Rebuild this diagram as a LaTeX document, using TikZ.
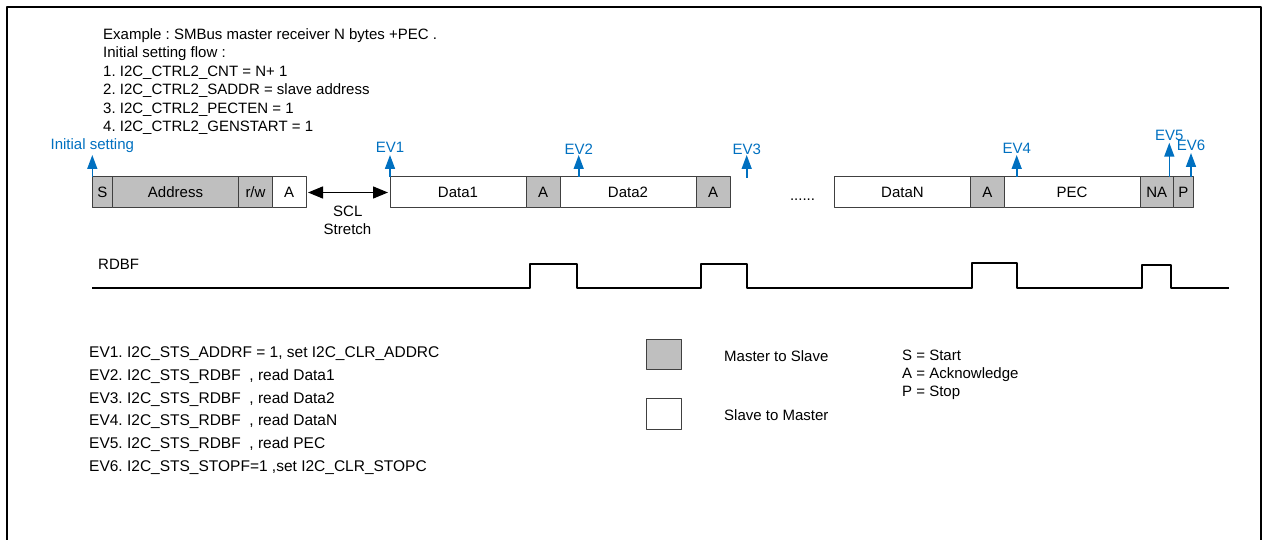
\documentclass[tikz,border=0pt]{standalone}
\usepackage{fontspec}
\setmainfont{Liberation Sans}
\frenchspacing
\definecolor{ink}{HTML}{000000}
\definecolor{evblue}{HTML}{0070C0}
\definecolor{boxline}{HTML}{404040}
\definecolor{mgray}{HTML}{BFBFBF}
\newcommand{\figfontsize}{\fontsize{15}{18}\selectfont}
\tikzset{
  every picture/.style = {font=\figfontsize, line join=round},
  field/.style         = {draw=boxline, line width=1pt, minimum height=31pt,
                          inner sep=0pt, outer sep=0pt, anchor=west},
  mtos/.style          = {field, fill=mgray},
  stom/.style          = {field, fill=white},
  txt/.style           = {text=ink, anchor=base west, inner sep=0pt},
}
\usetikzlibrary{arrows.meta, positioning}

\begin{document}
\begin{tikzpicture}[x=1pt, y=-1pt]
  % one unit = one pixel of the 1267x540 sheet, y grows downwards
  \tikzset{
    evarrow/.style = {evblue, line width=1.6pt, -{Triangle[length=14pt, width=10pt]}},
    evlabel/.style = {text=evblue, above, inner sep=1.5pt},
    stretch/.style = {ink, line width=1.4pt, shorten <=2pt, shorten >=2pt,
                      {Triangle[length=15pt, width=12pt]}-{Triangle[length=15pt, width=12pt]}},
    wave/.style    = {ink, line width=1.5pt},
    evtxt/.style   = {txt, font=\fontsize{15.5}{18}\selectfont},
  }
  \useasboundingbox (0,0) rectangle (1267,540);

  % outer frame, open at the bottom
  \draw[ink, line width=2.4pt] (7,540) -- (7,7) -- (1261,7) -- (1261,540);

  % --- setup notes ------------------------------------------------------------
  \node[txt] (note0) at (103,39.3)  {Example : SMBus master receiver N bytes +PEC .};
  \node[txt] (note1) at (103,57.8)  {Initial setting flow :};
  \node[txt] (note2) at (103,76.3)  {1. I2C\_CTRL2\_CNT = N+ 1};
  \node[txt] (note3) at (103,94.8)  {2. I2C\_CTRL2\_SADDR = slave address};
  \node[txt] (note4) at (103,113.3) {3. I2C\_CTRL2\_PECTEN = 1};
  \node[txt] (note5) at (103,131.8) {4. I2C\_CTRL2\_GENSTART = 1};

  % --- frame fields: address phase ---------------------------------------------
  \node[mtos, minimum width=20pt] (s) at (92.3,192.5) {S};
  \node[mtos, minimum width=126.4pt, right=0pt of s]    (addr) {Address};
  \node[mtos, minimum width=33.6pt,  right=0pt of addr] (rw)   {r/w};
  \node[stom, minimum width=33.7pt,  right=0pt of rw]   (a0)   {A};

  % --- data bytes ---------------------------------------------------------------
  \node[stom, minimum width=136pt] (d1) at (390,192.5) {Data1};
  \node[mtos, minimum width=34pt,  right=0pt of d1] (a1) {A};
  \node[stom, minimum width=136pt, right=0pt of a1] (d2) {Data2};
  \node[mtos, minimum width=34pt,  right=0pt of d2] (a2) {A};

  \node[txt, anchor=base] (dots) at (802.5,200.5) {......};

  % --- last byte, PEC and stop ----------------------------------------------------
  \node[stom, minimum width=136.4pt] (dn) at (834.3,192.5) {DataN};
  \node[mtos, minimum width=33.3pt,  right=0pt of dn]  (an)  {A};
  \node[stom, minimum width=136.3pt, right=0pt of an]  (pec) {PEC};
  \node[mtos, minimum width=33pt,    right=0pt of pec] (na)  {NA};
  \node[mtos, minimum width=20pt,    right=0pt of na]  (p)   {P};

  % clock stretching between address and first data byte
  \draw[stretch] (a0.east) -- (d1.west);
  \node[txt, anchor=base] (scl)  at (347.8,216.4) {SCL};
  \node[txt, anchor=base] (strt) at (347.5,234.6) {Stretch};

  % --- event markers ------------------------------------------------------------
  \draw[evarrow] (s.north west) -- ++(0,-22) node[evlabel] (evinit) {Initial setting};
  \draw[evarrow] (d1.north west) -- ++(0,-22) node[evlabel] (ev1) {EV1};
  \draw[evarrow] ([xshift=18.7pt]d2.north west) -- ++(0,-22) node[evlabel, inner sep=0pt] (ev2) {EV2};
  \coordinate (ev3foot) at (746.7,178);
  \draw[evarrow] (ev3foot) -- ++(0,-23) node[evlabel, inner sep=0pt] (ev3) {EV3};
  \draw[evarrow] ([xshift=12.7pt]pec.north west) -- ++(0,-22) node[evlabel, inner sep=0.5pt] (ev4) {EV4};
  \draw[evarrow] ([xshift=-4pt]na.north east) -- ++(0,-34.3) node[evlabel] (ev5) {EV5};
  \draw[evarrow] ([xshift=-2.3pt]p.north east) -- ++(0,-24) node[evlabel] (ev6) {EV6};

  % --- RDBF flag ------------------------------------------------------------------
  \node[txt] (rdbf) at (98,269.6) {RDBF};
  \draw[wave] (92,288) -- (530,288) -- (530,264) -- (577,264) -- (577,288)
              -- (701,288) -- (701,264) -- (747,264) -- (747,288)
              -- (972,288) -- (972,263) -- (1017,263) -- (1017,288)
              -- (1142,288) -- (1142,265) -- (1171,265) -- (1171,288) -- (1229,288);

  % --- event list -----------------------------------------------------------------
  \node[evtxt] (evt1) at (89,357.5) {EV1. I2C\_STS\_ADDRF = 1, set I2C\_CLR\_ADDRC};
  \node[evtxt] (evt2) at (89,380.3) {EV2. I2C\_STS\_RDBF\ \ , read Data1};
  \node[evtxt] (evt3) at (89,403.1) {EV3. I2C\_STS\_RDBF\ \ , read Data2};
  \node[evtxt] (evt4) at (89,425.9) {EV4. I2C\_STS\_RDBF\ \ , read DataN};
  \node[evtxt] (evt5) at (89,448.7) {EV5. I2C\_STS\_RDBF\ \ , read PEC};
  \node[evtxt] (evt6) at (89,471.5) {EV6. I2C\_STS\_STOPF=1 ,set I2C\_CLR\_STOPC};

  % --- legend ---------------------------------------------------------------------
  \node[mtos, anchor=center, minimum width=35pt, minimum height=30pt] (keym) at (664.2,354) {};
  \node[stom, anchor=center, minimum width=35pt, minimum height=31pt] (keys) at (664.2,413.5) {};
  \node[txt] (keymtxt) at (724,361)   {Master to Slave};
  \node[txt] (keystxt) at (724,420.7) {Slave to Master};
  \node[txt] (abbr1) at (902,360)   {S = Start};
  \node[txt] (abbr2) at (902,378.3) {A = Acknowledge};
  \node[txt] (abbr3) at (902,396.7) {P = Stop};
\end{tikzpicture}
\end{document}
